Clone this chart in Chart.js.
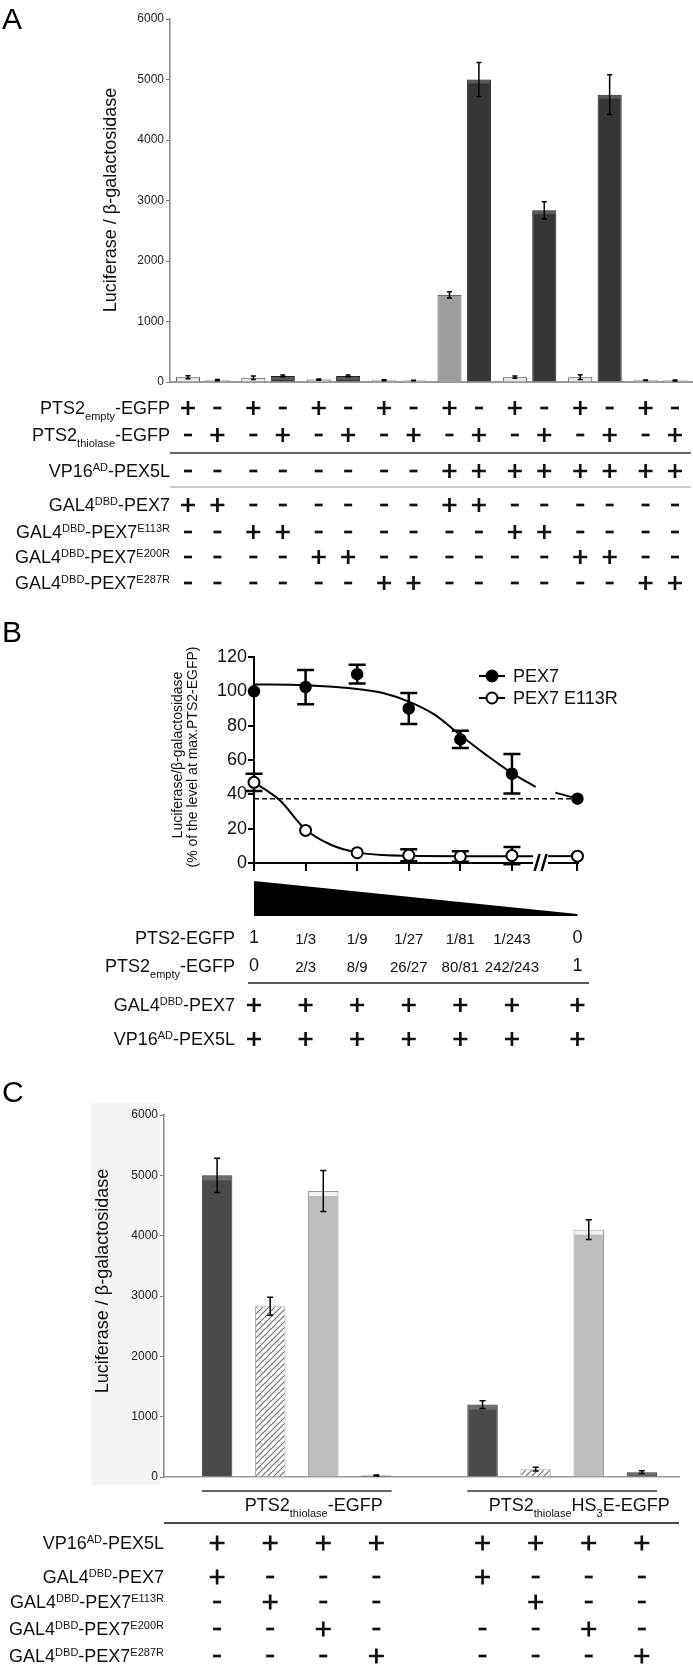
<!DOCTYPE html>
<html>
<head>
<meta charset="utf-8">
<script src="https://cdn.jsdelivr.net/npm/chart.js@4.4.1/dist/chart.umd.min.js"></script>
<style>
  body { margin: 0; background: #fff; width: 693px; height: 1664px; position: relative; overflow: hidden; }
  canvas { position: absolute; left: 0; }
</style>
</head>
<body>
<canvas id="chartA" width="693" height="600" style="top:0;width:693px;height:600px"></canvas>
<canvas id="chartB" width="693" height="460" style="top:600px;width:693px;height:460px"></canvas>
<canvas id="chartC" width="693" height="604" style="top:1060px;width:693px;height:604px"></canvas>
<script>
// ---------- Panel A data ----------
const pairsA = ['PEX7', 'E113R', 'E200R', 'E287R', 'PEX7 + PEX5L', 'E113R + PEX5L', 'E200R + PEX5L', 'E287R + PEX5L'];
const emptyA = [80, 70, 40, 30, 1440, 80, 80, 30];
const emptyErrA = [25, 30, 10, 8, 50, 20, 40, 5];
const thiolaseA = [30, 100, 100, 25, 5000, 2840, 4750, 25];
const thiolaseErrA = [10, 15, 15, 5, 280, 140, 330, 10];
const emptyKindA = ['light', 'light', 'light', 'light', 'mid', 'light', 'light', 'light'];
const thiolaseKindA = ['light', 'dark', 'dark', 'light', 'dark', 'dark', 'dark', 'light'];
const rowLabelsA = ['PTS2_{empty}-EGFP', 'PTS2_{thiolase}-EGFP', 'VP16^{AD}-PEX5L', 'GAL4^{DBD}-PEX7',
  'GAL4^{DBD}-PEX7^{E113R}', 'GAL4^{DBD}-PEX7^{E200R}', 'GAL4^{DBD}-PEX7^{E287R}'];
const rowSignsA = ['+-+-+-+-+-+-+-+-', '-+-+-+-+-+-+-+-+', '--------++++++++', '++------++------',
  '--++------++----', '----++------++--', '------++------++'];

// ---------- Panel B data ----------
const dilutionX = [0, 1, 2, 3, 4, 5, 6.27];
const pts2Labels = ['1', '1/3', '1/9', '1/27', '1/81', '1/243', '0'];
const emptyLabels = ['0', '2/3', '8/9', '26/27', '80/81', '242/243', '1'];
const pex7B = [100, 102.5, 110, 90, 72, 52, 37.5];
const pex7ErrB = [0, 10, 5.5, 9, 5, 11.5, 0];
const e113rB = [47, 19, 6, 4.5, 3.8, 4.3, 4];
const e113rErrB = [5, 0, 0, 3.5, 3, 5, 0];
// fitted curves
const pex7FitX = [0, 1, 2, 2.5, 3, 3.5, 4, 4.5, 5, 5.46];
const pex7FitY = [104, 103.6, 101.4, 99, 94, 86.4, 74.5, 63, 52.4, 44.4];
const pex7TailX = [5.84, 6.27];
const pex7TailY = [41, 37.5];
const e113rFitX = [0, 0.5, 1, 1.5, 2, 2.5, 3, 4, 5, 5.41];
const e113rFitY = [47, 36.5, 19.5, 10.5, 6.2, 4.6, 4.2, 4, 4, 4];
const e113rTailX = [5.7, 6.27];
const e113rTailY = [4, 4];
const plateauB = 37.5;
const breakB = [5.41, 5.7];
const rowLabelsB = ['PTS2-EGFP', 'PTS2_{empty}-EGFP', 'GAL4^{DBD}-PEX7', 'VP16^{AD}-PEX5L'];
const rowSignsB = ['+++++++', '+++++++'];

// ---------- Panel C data ----------
const barXC = [0, 1, 2, 3, 5, 6, 7, 8];
const valuesC = [5000, 2830, 4740, 25, 1200, 130, 4100, 80];
const errC = [285, 150, 340, 8, 65, 30, 165, 22];
const kindC = ['dark', 'hatch', 'light', 'dark', 'dark', 'hatch', 'light', 'dark'];
const groupsC = ['PTS2_{thiolase}-EGFP', 'PTS2_{thiolase}HS_{3}E-EGFP'];
const rowLabelsC = ['VP16^{AD}-PEX5L', 'GAL4^{DBD}-PEX7', 'GAL4^{DBD}-PEX7^{E113R}', 'GAL4^{DBD}-PEX7^{E200R}', 'GAL4^{DBD}-PEX7^{E287R}'];
const rowSignsC = ['++++++++', '+---+---', '-+-- +--', '--+---+-', '---+---+'];

const FONT = "'Liberation Sans', Arial, sans-serif";
Chart.defaults.font.family = FONT;
Chart.defaults.color = '#222';

// text with _{sub} and ^{sup} parts
function rich(ctx, str, x, cy, size, align) {
  const parts = [];
  const re = /([_^])\{([^}]*)\}|([^_^]+)/g;
  let m;
  while ((m = re.exec(str))) {
    if (m[3]) parts.push({ t: m[3], k: 0 });
    else parts.push({ t: m[2], k: m[1] === '_' ? 1 : -1 });
  }
  const small = Math.round(size * 0.6);
  let w = 0;
  parts.forEach(p => { ctx.font = (p.k ? small : size) + 'px ' + FONT; p.w = ctx.measureText(p.t).width; w += p.w; });
  let cx = align === 'right' ? x - w : align === 'center' ? x - w / 2 : x;
  const base = cy + size * 0.36;
  ctx.textAlign = 'left';
  ctx.textBaseline = 'alphabetic';
  parts.forEach(p => {
    ctx.font = (p.k ? small : size) + 'px ' + FONT;
    const dy = p.k === 1 ? size * 0.3 : p.k === -1 ? -size * 0.36 : 0;
    ctx.fillText(p.t, cx, base + dy);
    cx += p.w;
  });
}

// + and - marks of the tables
function sign(ctx, ch, x, y, half) {
  if (ch === ' ') return;
  ctx.save();
  ctx.strokeStyle = '#111';
  ctx.lineWidth = 2.7;
  ctx.beginPath();
  if (ch === '+') {
    ctx.moveTo(x - half, y); ctx.lineTo(x + half, y);
    ctx.moveTo(x, y - half); ctx.lineTo(x, y + half);
  } else {
    ctx.moveTo(x - 4, y); ctx.lineTo(x + 4, y);
  }
  ctx.stroke();
  ctx.restore();
}

function hline(ctx, x1, x2, y, color, w) {
  ctx.save();
  ctx.strokeStyle = color; ctx.lineWidth = w;
  ctx.beginPath(); ctx.moveTo(x1, y); ctx.lineTo(x2, y); ctx.stroke();
  ctx.restore();
}

function drawErrors(chart, capHalf, lw) {
  const ctx = chart.ctx, ys = chart.scales.y;
  chart.data.datasets.forEach((ds, di) => {
    if (!ds.errors) return;
    chart.getDatasetMeta(di).data.forEach((el, i) => {
      const e = ds.errors[i];
      if (!e) return;
      const raw = ds.data[i];
      const v = typeof raw === 'object' ? raw.y : raw;
      const x = el.x, y1 = ys.getPixelForValue(v + e), y2 = ys.getPixelForValue(v - e);
      ctx.save();
      ctx.strokeStyle = '#000'; ctx.lineWidth = lw;
      ctx.beginPath();
      ctx.moveTo(x, y1); ctx.lineTo(x, y2);
      ctx.moveTo(x - capHalf, y1); ctx.lineTo(x + capHalf, y1);
      ctx.moveTo(x - capHalf, y2); ctx.lineTo(x + capHalf, y2);
      ctx.stroke();
      ctx.restore();
    });
  });
}

function yTitle(ctx, text, x, y, size) {
  ctx.save();
  ctx.translate(x, y);
  ctx.rotate(-Math.PI / 2);
  ctx.font = size + 'px ' + FONT;
  ctx.fillStyle = '#111';
  ctx.textAlign = 'center';
  ctx.textBaseline = 'middle';
  ctx.fillText(text, 0, 0);
  ctx.restore();
}

function letter(ctx, t, x, y) {
  ctx.font = '30px ' + FONT;
  ctx.fillStyle = '#000';
  ctx.textAlign = 'left';
  ctx.textBaseline = 'alphabetic';
  ctx.fillText(t, x, y);
}

const plainTick = v => String(v);

// ---------- Panel A ----------
const fillA = { light: '#e8e8e8', mid: '#9c9c9c', dark: '#353535' };
const edgeA = { light: '#444', mid: '#666', dark: '#222' };

const panelA = {
  id: 'panelA',
  afterDatasetsDraw(chart) {
    const ctx = chart.ctx;
    // lighter band on top of the dark bars
    [emptyKindA, thiolaseKindA].forEach((kinds, k) => {
      chart.getDatasetMeta(k).data.forEach((el, i) => {
        if (kinds[i] !== 'dark') return;
        ctx.fillStyle = '#5a5a5a';
        ctx.fillRect(el.x - el.width / 2 + 1, el.y + 1, el.width - 2, 3);
      });
    });
    drawErrors(chart, 2.5, 1.5);
  },
  afterDraw(chart) {
    const ctx = chart.ctx;
    const area = chart.chartArea;
    ctx.save();
    letter(ctx, 'A', 2, 29);
    yTitle(ctx, 'Luciferase / \u03b2-galactosidase', 111, 200, 18);
    const m0 = chart.getDatasetMeta(0), m1 = chart.getDatasetMeta(1);
    const cols = [];
    for (let i = 0; i < pairsA.length; i++) { cols.push(m0.data[i].x, m1.data[i].x); }
    const rowY = [408, 435, 471, 505, 532, 557, 583];
    ctx.fillStyle = '#111';
    rowLabelsA.forEach((lab, r) => {
      rich(ctx, lab, 170, rowY[r], 18, 'right');
      for (let c = 0; c < cols.length; c++) sign(ctx, rowSignsA[r][c], cols[c], rowY[r], 7);
    });
    hline(ctx, area.left, 691, 453, '#333', 1.5);
    hline(ctx, area.left, 691, 487, '#bbb', 1.5);
    ctx.restore();
  }
};

new Chart(document.getElementById('chartA').getContext('2d'), {
  type: 'bar',
  data: {
    labels: pairsA,
    datasets: [{
      label: 'PTS2empty-EGFP',
      data: emptyA,
      errors: emptyErrA,
      backgroundColor: emptyKindA.map(k => fillA[k]),
      borderColor: emptyKindA.map(k => edgeA[k]),
      borderWidth: 1,
      barPercentage: 0.82,
      categoryPercentage: 0.9
    }, {
      label: 'PTS2thiolase-EGFP',
      data: thiolaseA,
      errors: thiolaseErrA,
      backgroundColor: thiolaseKindA.map(k => fillA[k]),
      borderColor: thiolaseKindA.map(k => edgeA[k]),
      borderWidth: 1,
      barPercentage: 0.82,
      categoryPercentage: 0.9
    }]
  },
  options: {
    responsive: false,
    animation: false,
    devicePixelRatio: 1,
    layout: { padding: { top: 19, bottom: 218, left: 0, right: 0 } },
    plugins: { legend: { display: false }, tooltip: { enabled: false } },
    scales: {
      x: {
        ticks: { display: false },
        grid: { display: false },
        border: { color: '#999', width: 2 },
        afterFit: s => { s.height = 0; }
      },
      y: {
        min: 0, max: 6000,
        ticks: { stepSize: 1000, font: { size: 12 }, color: '#222', padding: 2, callback: plainTick },
        grid: { drawOnChartArea: false, drawTicks: true, tickLength: 4, color: '#777' },
        border: { color: '#888', width: 1.5 },
        afterFit: s => { s.width = 170; }
      }
    }
  },
  plugins: [panelA]
});

// ---------- Panel B ----------
const xy = (xs, ys) => xs.map((x, i) => ({ x, y: ys[i] }));

const panelB = {
  id: 'panelB',
  beforeDatasetsDraw(chart) {
    drawErrors(chart, 8.5, 2.5);
  },
  afterDraw(chart) {
    const ctx = chart.ctx, xs = chart.scales.x, ys = chart.scales.y;
    const y0 = ys.getPixelForValue(0);
    ctx.save();
    letter(ctx, 'B', 2, 42);
    // y title, two lines
    yTitle(ctx, 'Luciferase/\u03b2-galactosidase', 178, 155, 14);
    yTitle(ctx, '(% of the level at max.PTS2-EGFP)', 193, 157, 14);
    // x axis with a break
    ctx.strokeStyle = '#000'; ctx.lineWidth = 2;
    ctx.beginPath();
    ctx.moveTo(xs.left, y0); ctx.lineTo(xs.getPixelForValue(breakB[0]), y0);
    ctx.moveTo(xs.getPixelForValue(breakB[1]), y0); ctx.lineTo(xs.right, y0);
    ctx.stroke();
    const bx = xs.getPixelForValue((breakB[0] + breakB[1]) / 2);
    ctx.lineWidth = 2.5;
    ctx.beginPath();
    [-3.5, 3.5].forEach(d => { ctx.moveTo(bx + d - 2.5, y0 + 8); ctx.lineTo(bx + d + 2.5, y0 - 9); });
    ctx.stroke();
    // legend
    const legend = [{ t: 'PEX7', fill: '#000' }, { t: 'PEX7 E113R', fill: '#fff' }];
    legend.forEach((l, i) => {
      const ly = 76 + i * 22;
      ctx.strokeStyle = '#000'; ctx.lineWidth = 2;
      ctx.beginPath(); ctx.moveTo(479, ly); ctx.lineTo(505, ly); ctx.stroke();
      ctx.beginPath(); ctx.arc(492, ly, 5.5, 0, Math.PI * 2);
      ctx.fillStyle = l.fill; ctx.fill(); ctx.stroke();
      ctx.fillStyle = '#111';
      ctx.font = '18px ' + FONT;
      ctx.textAlign = 'left'; ctx.textBaseline = 'middle';
      ctx.fillText(l.t, 513, ly + 1);
    });
    // dilution wedge
    const xa = xs.getPixelForValue(dilutionX[0]), xb = xs.getPixelForValue(dilutionX[dilutionX.length - 1]);
    ctx.fillStyle = '#000';
    ctx.beginPath(); ctx.moveTo(xa, 281); ctx.lineTo(xb, 314); ctx.lineTo(xb, 316); ctx.lineTo(xa, 316); ctx.closePath(); ctx.fill();
    // table
    const cols = dilutionX.map(v => xs.getPixelForValue(v));
    const rowY = [338, 366, 405, 439];
    ctx.fillStyle = '#111';
    rowLabelsB.forEach((lab, r) => rich(ctx, lab, 235, rowY[r], 18, 'right'));
    [pts2Labels, emptyLabels].forEach((vals, r) => {
      vals.forEach((t, c) => {
        const big = t.indexOf('/') < 0;
        ctx.font = (big ? 18 : 15) + 'px ' + FONT;
        ctx.textAlign = 'center'; ctx.textBaseline = 'middle';
        ctx.fillText(t, cols[c], rowY[r] + (big ? 0 : 2));
      });
    });
    hline(ctx, 248, 589, 383, '#222', 1.5);
    rowSignsB.forEach((s, r) => { for (let c = 0; c < cols.length; c++) sign(ctx, s[c], cols[c], rowY[r + 2], 7); });
    ctx.restore();
  }
};

const curve = (data) => ({
  data, showLine: true, pointRadius: 0, borderColor: '#000', borderWidth: 2,
  cubicInterpolationMode: 'monotone', clip: false
});

new Chart(document.getElementById('chartB').getContext('2d'), {
  type: 'scatter',
  data: {
    datasets: [
      { label: 'PEX7', data: xy(dilutionX, pex7B), errors: pex7ErrB, pointRadius: 5.5, pointBackgroundColor: '#000',
        pointBorderColor: '#000', pointBorderWidth: 1.5, showLine: false, clip: false },
      { label: 'PEX7 E113R', data: xy(dilutionX, e113rB), errors: e113rErrB, pointRadius: 5.5, pointBackgroundColor: '#fff',
        pointBorderColor: '#000', pointBorderWidth: 2, showLine: false, clip: false },
      curve(xy(pex7FitX, pex7FitY)),
      curve(xy(pex7TailX, pex7TailY)),
      curve(xy(e113rFitX, e113rFitY)),
      curve(xy(e113rTailX, e113rTailY)),
      { data: xy([dilutionX[0], dilutionX[dilutionX.length - 1]], [plateauB, plateauB]), showLine: true, pointRadius: 0,
        borderColor: '#000', borderWidth: 1.5, borderDash: [5, 3], clip: false }
    ]
  },
  options: {
    responsive: false,
    animation: false,
    devicePixelRatio: 1,
    layout: { padding: { top: 57, bottom: 197, left: 0, right: 114 } },
    plugins: { legend: { display: false }, tooltip: { enabled: false } },
    scales: {
      x: {
        type: 'linear', min: 0, max: 6.3,
        ticks: { display: false },
        grid: { drawOnChartArea: false, drawTicks: true, tickLength: 8, color: '#000', lineWidth: 2 },
        border: { display: false },
        afterBuildTicks: s => { s.ticks = dilutionX.map(v => ({ value: v })); },
        afterFit: s => { s.height = 0; }
      },
      y: {
        min: 0, max: 120,
        ticks: { stepSize: 20, font: { size: 18 }, color: '#111', padding: 1 },
        grid: { drawOnChartArea: false, drawTicks: true, tickLength: 6, color: '#000', lineWidth: 2 },
        border: { color: '#000', width: 2 },
        afterFit: s => { s.width = 254; }
      }
    }
  },
  plugins: [panelB]
});

// ---------- Panel C ----------
function hatchPattern(ctx) {
  const c = document.createElement('canvas');
  c.width = 6; c.height = 6;
  const g = c.getContext('2d');
  g.fillStyle = '#fff'; g.fillRect(0, 0, 6, 6);
  g.strokeStyle = '#6a6a6a'; g.lineWidth = 1.1;
  g.beginPath();
  g.moveTo(0, 6); g.lineTo(6, 0);
  g.moveTo(-1, 1); g.lineTo(1, -1);
  g.moveTo(5, 7); g.lineTo(7, 5);
  g.stroke();
  return ctx.createPattern(c, 'repeat');
}

const ctxC = document.getElementById('chartC').getContext('2d');
const fillC = { dark: '#4a4a4a', light: '#bdbdbd', hatch: hatchPattern(ctxC) };
const edgeC = { dark: '#3a3a3a', light: '#9a9a9a', hatch: '#aaa' };
const topC = { dark: '#6e6e6e', light: '#f2f2f2', hatch: null };

const panelC = {
  id: 'panelC',
  beforeDraw(chart) {
    const ctx = chart.ctx;
    ctx.save();
    ctx.fillStyle = '#f4f4f4';
    ctx.fillRect(91, 43, 69, 382);
    ctx.restore();
  },
  afterDatasetsDraw(chart) {
    const ctx = chart.ctx;
    chart.getDatasetMeta(0).data.forEach((el, i) => {
      const c = topC[kindC[i]];
      if (!c) return;
      ctx.fillStyle = c;
      ctx.fillRect(el.x - el.width / 2 + 1, el.y + 1, el.width - 2, Math.min(4, Math.max(0, el.base - el.y - 2)));
    });
    drawErrors(chart, 3, 1.5);
  },
  afterDraw(chart) {
    const ctx = chart.ctx, area = chart.chartArea;
    const els = chart.getDatasetMeta(0).data;
    ctx.save();
    letter(ctx, 'C', 2, 42);
    yTitle(ctx, 'Luciferase / \u03b2-galactosidase', 103, 221, 18);
    // group brackets
    ctx.fillStyle = '#111';
    [[0, 3], [4, 7]].forEach((g, k) => {
      const a = els[g[0]], b = els[g[1]];
      const x1 = a.x - a.width / 2, x2 = b.x + b.width / 2;
      hline(ctx, x1, x2, 431, '#333', 1.5);
      rich(ctx, groupsC[k], (x1 + x2) / 2 + 17, 445, 18, 'center');
    });
    hline(ctx, area.left, area.right, 463, '#111', 1.5);
    const rowY = [483, 517, 542, 569, 596];
    rowLabelsC.forEach((lab, r) => {
      rich(ctx, lab, 164, rowY[r], 18, 'right');
      els.forEach((el, c) => sign(ctx, rowSignsC[r][c], el.x, rowY[r], 7.5));
    });
    ctx.restore();
  }
};

new Chart(ctxC, {
  type: 'bar',
  data: {
    datasets: [{
      data: barXC.map((x, i) => ({ x, y: valuesC[i] })),
      errors: errC,
      backgroundColor: kindC.map(k => fillC[k]),
      borderColor: kindC.map(k => edgeC[k]),
      borderWidth: 1,
      barPercentage: 0.82,
      categoryPercentage: 1
    }]
  },
  options: {
    responsive: false,
    animation: false,
    devicePixelRatio: 1,
    layout: { padding: { top: 55, bottom: 187, left: 0, right: 14 } },
    plugins: { legend: { display: false }, tooltip: { enabled: false } },
    scales: {
      x: {
        type: 'linear', min: -1, max: 8.7, offset: false,
        ticks: { display: false },
        grid: { display: false },
        border: { color: '#999', width: 1.5 },
        afterFit: s => { s.height = 0; }
      },
      y: {
        min: 0, max: 6000,
        ticks: { stepSize: 1000, font: { size: 12 }, color: '#222', padding: 2, callback: plainTick },
        grid: { drawOnChartArea: false, drawTicks: true, tickLength: 4, color: '#777' },
        border: { color: '#888', width: 1.5 },
        afterFit: s => { s.width = 164; }
      }
    }
  },
  plugins: [panelC]
});
</script>
</body>
</html>
